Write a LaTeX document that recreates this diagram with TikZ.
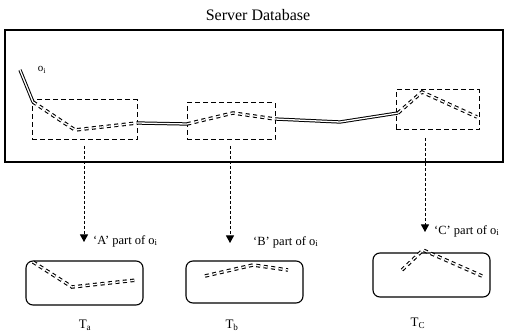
\documentclass[tikz,border=0pt]{standalone}
\usepackage{fontspec}
\setmainfont{Liberation Serif}
\usetikzlibrary{arrows.meta}
\begin{document}
\begin{tikzpicture}[x=1pt,y=-1pt,
  box/.style={draw,line width=1.1pt,inner sep=0pt},
  dbox/.style={draw,line width=1pt,dash pattern=on 5pt off 3pt,inner sep=0pt},
  tbox/.style={draw,line width=1.1pt,rounded corners=7pt,inner sep=0pt,minimum width=117pt},
  solidtraj/.style={draw,line width=1pt,double,double distance=1.3pt},
  dashtraj/.style={draw,line width=1.1pt,double,double distance=1.3pt,dash pattern=on 4pt off 3.5pt},
  darrow/.style={draw,line width=0.8pt,dash pattern=on 3pt off 2pt,-{Triangle[width=8pt,length=7.5pt]}},
  lbl/.style={font=\fontsize{12.5}{14}\selectfont,inner sep=0pt}]
\useasboundingbox (0,0) rectangle (512,334);
\node[font=\fontsize{16}{18}\selectfont] (title) at (258,15) {Server Database};
\node[box,minimum width=498pt,minimum height=132pt] (db) at (254,96) {};
\node[dbox,minimum width=105pt,minimum height=40pt] (bA) at (84.5,120) {};
\node[dbox,minimum width=88pt,minimum height=37pt] (bB) at (231,121.5) {};
\node[dbox,minimum width=83pt,minimum height=40pt] (bC) at (437.5,110) {};
\node[font=\fontsize{11}{13}\selectfont,inner sep=0pt] (oi) at (42,70) {o\textsubscript{i}};
% trajectory
\coordinate (p0) at (20,70);
\coordinate (p1) at (33,102);
\coordinate (p2) at (75,130);
\coordinate (p3) at (137,123);
\coordinate (p4) at (187,124);
\coordinate (p5) at (233,113);
\coordinate (p6) at (275,119);
\coordinate (p7) at (340,122);
\coordinate (p8) at (398,113);
\coordinate (p9) at (422,92);
\coordinate (p10) at (477,117);
\path[solidtraj] (p0) -- (p1);
\path[dashtraj] (p1) -- (p2) -- (p3);
\path[solidtraj] (p3) -- (p4);
\path[dashtraj] (p4) -- (p5) -- (p6);
\path[solidtraj] (p6) -- (p7) -- (p8);
\path[dashtraj] (p8) -- (p9) -- (p10);
% target boxes
\node[tbox,minimum height=44pt] (Ta) at (84.5,283) {};
\node[tbox,minimum height=42pt] (Tb) at (244.5,282) {};
\node[tbox,minimum height=44pt] (Tc) at (431.5,275) {};
\node[lbl,font=\fontsize{13}{15}\selectfont] (la) at (85,325) {T\textsubscript{a}};
\node[lbl,font=\fontsize{13}{15}\selectfont] (lb) at (232,325) {T\textsubscript{b}};
\node[lbl,font=\fontsize{13}{15}\selectfont] (lc) at (418,323) {T\textsubscript{C}};
% arrows
\coordinate (sA) at (84,146);
\coordinate (tA) at (84,242);
\coordinate (sB) at (230,146);
\coordinate (tB) at (230,243);
\coordinate (sC) at (425,138);
\coordinate (tC) at (425,232);
\path[darrow] (sA) -- (tA);
\path[darrow] (sB) -- (tB);
\path[darrow] (sC) -- (tC);
\node[lbl,anchor=west] (tA1) at (93,241) {‘A’ part of o\textsubscript{i}};
\node[lbl,anchor=west] (tB1) at (253,242) {‘B’ part of o\textsubscript{i}};
\node[lbl,anchor=west] (tC1) at (434,231) {‘C’ part of o\textsubscript{i}};
% inner trajectories
\path[dashtraj] (33,262) -- (72,287) -- (137,280);
\path[dashtraj] (205,276) -- (253,265) -- (288,270);
\path[dashtraj] (402,270) -- (423,250) -- (482,276);
\end{tikzpicture}
\end{document}
